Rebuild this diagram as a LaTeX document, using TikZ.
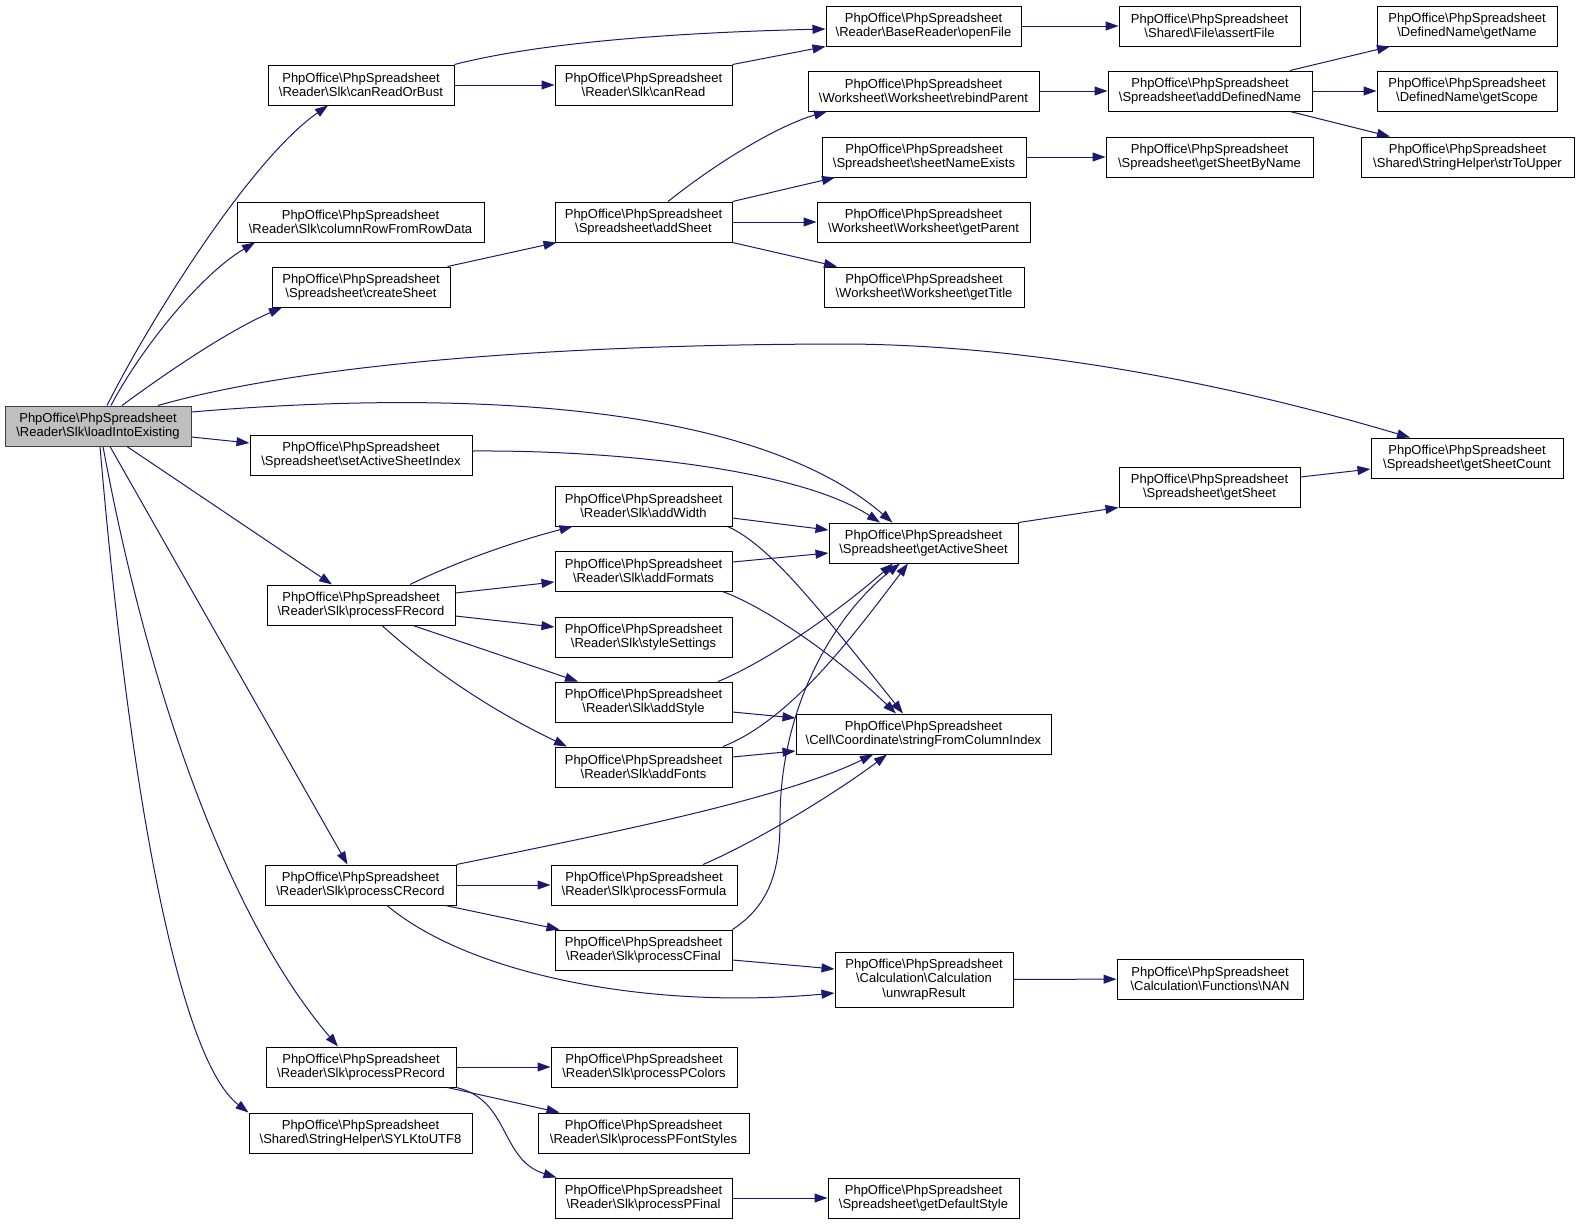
\documentclass[tikz,border=0pt]{standalone}
\usepackage{fontspec}
\setmainfont{Liberation Sans}
\usetikzlibrary{arrows.meta}

\definecolor{edgeblue}{HTML}{191970}
\newcommand{\nsep}{\textbackslash}
\newcommand{\php}{PhpOffice\nsep PhpSpreadsheet\\}

\tikzset{
  fn/.style={draw, line width=1pt, fill=white, inner sep=0pt, minimum height=40pt,
    align=center, font=\fontsize{13}{14.5}\selectfont},
  rootfn/.style={fn, draw=black!75, fill=black!25},
  call/.style={draw=edgeblue, line width=1pt, -{Triangle[length=13pt,width=9pt]}},
}

\begin{document}
\begin{tikzpicture}[x=1pt, y=-1pt]
  \useasboundingbox (0,0) rectangle (1579,1224);

  % first column
  \node[rootfn, minimum width=186pt] (load) at (98,426) {\php\nsep Reader\nsep Slk\nsep loadIntoExisting};

  % second column
  \node[fn, minimum width=186pt] (canReadOrBust) at (361,85)    {\php\nsep Reader\nsep Slk\nsep canReadOrBust};
  \node[fn, minimum width=247pt] (colRow)        at (360.5,222) {\php\nsep Reader\nsep Slk\nsep columnRowFromRowData};
  \node[fn, minimum width=178pt] (createSheet)   at (361,287)   {\php\nsep Spreadsheet\nsep createSheet};
  \node[fn, minimum width=222pt] (setActive)     at (361,455)   {\php\nsep Spreadsheet\nsep setActiveSheetIndex};
  \node[fn, minimum width=188pt] (procF)         at (361,605)   {\php\nsep Reader\nsep Slk\nsep processFRecord};
  \node[fn, minimum width=191pt] (procC)         at (360.5,885) {\php\nsep Reader\nsep Slk\nsep processCRecord};
  \node[fn, minimum width=190pt] (procP)         at (361,1067)  {\php\nsep Reader\nsep Slk\nsep processPRecord};
  \node[fn, minimum width=223pt] (sylk)          at (360.5,1133){\php\nsep Shared\nsep StringHelper\nsep SYLKtoUTF8};

  % third column
  \node[fn, minimum width=177pt] (canRead)       at (643.5,85)   {\php\nsep Reader\nsep Slk\nsep canRead};
  \node[fn, minimum width=177pt] (addSheet)      at (643.5,222)  {\php\nsep Spreadsheet\nsep addSheet};
  \node[fn, minimum width=177pt] (addWidth)      at (643.5,506)  {\php\nsep Reader\nsep Slk\nsep addWidth};
  \node[fn, minimum width=177pt] (addFormats)    at (643.5,571)  {\php\nsep Reader\nsep Slk\nsep addFormats};
  \node[fn, minimum width=177pt] (styleSettings) at (643.5,637)  {\php\nsep Reader\nsep Slk\nsep styleSettings};
  \node[fn, minimum width=177pt] (addStyle)      at (643.5,702)  {\php\nsep Reader\nsep Slk\nsep addStyle};
  \node[fn, minimum width=177pt] (addFonts)      at (643.5,767)  {\php\nsep Reader\nsep Slk\nsep addFonts};
  \node[fn, minimum width=186pt] (procFormula)   at (644,885)    {\php\nsep Reader\nsep Slk\nsep processFormula};
  \node[fn, minimum width=177pt] (procCFinal)    at (643.5,950)  {\php\nsep Reader\nsep Slk\nsep processCFinal};
  \node[fn, minimum width=186pt] (procPColors)   at (644,1067)   {\php\nsep Reader\nsep Slk\nsep processPColors};
  \node[fn, minimum width=211pt] (procPFont)     at (643.5,1133) {\php\nsep Reader\nsep Slk\nsep processPFontStyles};
  \node[fn, minimum width=177pt] (procPFinal)    at (643.5,1198) {\php\nsep Reader\nsep Slk\nsep processPFinal};

  % fourth column
  \node[fn, minimum width=195pt] (openFile)      at (923.5,26)   {\php\nsep Reader\nsep BaseReader\nsep openFile};
  \node[fn, minimum width=231pt] (rebind)        at (923.5,91)   {\php\nsep Worksheet\nsep Worksheet\nsep rebindParent};
  \node[fn, minimum width=204pt] (nameExists)    at (924,157)    {\php\nsep Spreadsheet\nsep sheetNameExists};
  \node[fn, minimum width=213pt] (getParent)     at (923.5,222)  {\php\nsep Worksheet\nsep Worksheet\nsep getParent};
  \node[fn, minimum width=200pt] (getTitle)      at (924,287)    {\php\nsep Worksheet\nsep Worksheet\nsep getTitle};
  \node[fn, minimum width=189pt] (activeSheet)   at (923.5,543)  {\php\nsep Spreadsheet\nsep getActiveSheet};
  \node[fn, minimum width=255pt] (strFromCol)    at (923.5,734)  {\php\nsep Cell\nsep Coordinate\nsep stringFromColumnIndex};
  \node[fn, minimum width=178pt, minimum height=55pt] (unwrap) at (924,979.5)
    {\php\nsep Calculation\nsep Calculation\\\nsep unwrapResult};
  \node[fn, minimum width=191pt] (defStyle)      at (923.5,1198) {\php\nsep Spreadsheet\nsep getDefaultStyle};

  % fifth column
  \node[fn, minimum width=181pt] (assertFile)    at (1209.5,26)  {\php\nsep Shared\nsep File\nsep assertFile};
  \node[fn, minimum width=204pt] (addDefName)    at (1210,91)    {\php\nsep Spreadsheet\nsep addDefinedName};
  \node[fn, minimum width=207pt] (sheetByName)   at (1209.5,157) {\php\nsep Spreadsheet\nsep getSheetByName};
  \node[fn, minimum width=181pt] (getSheet)      at (1209.5,487) {\php\nsep Spreadsheet\nsep getSheet};
  \node[fn, minimum width=186pt] (nan)           at (1210,979)   {\php\nsep Calculation\nsep Functions\nsep NAN};

  % sixth column
  \node[fn, minimum width=180pt] (getName)       at (1467,26)    {\php\nsep DefinedName\nsep getName};
  \node[fn, minimum width=180pt] (getScope)      at (1467,91)    {\php\nsep DefinedName\nsep getScope};
  \node[fn, minimum width=213pt] (strToUpper)    at (1467.5,157) {\php\nsep Shared\nsep StringHelper\nsep strToUpper};
  \node[fn, minimum width=192pt] (sheetCount)    at (1467,458)   {\php\nsep Spreadsheet\nsep getSheetCount};

  % calls from loadIntoExisting
  \draw[call] ([shift={(9,0)}]load.north) .. controls (150,320) and (250,160) .. ([shift={(-33,0)}]canReadOrBust.south);
  \draw[call] ([shift={(13,0)}]load.north) .. controls (140,350) and (200,275) .. ([shift={(-105.5,0)}]colRow.south);
  \draw[call] ([shift={(24,0)}]load.north) .. controls (170,370) and (230,330) .. ([shift={(-79,0)}]createSheet.south);
  \draw[call] ([shift={(60,0)}]load.north) .. controls (300,365) and (550,344) .. (850,344)
    .. controls (1050,346) and (1250,390) .. ([shift={(-57,0)}]sheetCount.north);
  \draw[call] ([shift={(0,-14)}]load.east) .. controls (450,390) and (750,400) .. ([shift={(-31,0)}]activeSheet.north);
  \draw[call] ([shift={(0,11)}]load.east) -- ([shift={(0,-12)}]setActive.west);
  \draw[call] ([shift={(29,0)}]load.south) -- ([shift={(-29,0)}]procF.north);
  \draw[call] ([shift={(12,0)}]load.south) -- ([shift={(-13,0)}]procC.north);
  \draw[call] ([shift={(5,0)}]load.south) .. controls (150,700) and (230,920) .. ([shift={(-23,0)}]procP.north);
  \draw[call] ([shift={(2,0)}]load.south) .. controls (130,800) and (180,1060) .. (sylk.north west);

  % top part
  \draw[call] (canReadOrBust.north east) .. controls (550,40) and (700,32) .. ([shift={(0,3)}]openFile.west);
  \draw[call] (canReadOrBust) -- (canRead);
  \draw[call] (canRead.north east) -- (openFile.south west);
  \draw[call] (openFile) -- (assertFile);
  \draw[call] (rebind) -- (addDefName);
  \draw[call] (nameExists) -- (sheetByName);
  \draw[call] ([shift={(80,0)}]addDefName.north) -- ([shift={(-77,0)}]getName.south);
  \draw[call] (addDefName) -- (getScope);
  \draw[call] ([shift={(80,0)}]addDefName.south) -- ([shift={(-77.5,0)}]strToUpper.north);
  \draw[call] ([shift={(-3,0)}]createSheet.north east) -- ([shift={(2,0)}]addSheet.south west);
  \draw[call] ([shift={(24.5,0)}]addSheet.north) .. controls (720,160) and (780,125) .. ([shift={(-96.5,0)}]rebind.south);
  \draw[call] (addSheet.north east) -- ([shift={(-89,0)}]nameExists.south);
  \draw[call] (addSheet) -- (getParent);
  \draw[call] (addSheet.south east) -- ([shift={(-87,0)}]getTitle.north);

  % active sheet
  \draw[call] ([shift={(0,-4)}]setActive.east) .. controls (620,450) and (800,470) .. ([shift={(-43.5,0)}]activeSheet.north);
  \draw[call] (activeSheet.north east) -- (getSheet.south west);
  \draw[call] ([shift={(0,-10)}]getSheet.east) -- ([shift={(0,11)}]sheetCount.west);

  % processFRecord
  \draw[call] ([shift={(49,0)}]procF.north) .. controls (460,560) and (520,540) .. ([shift={(18,0)}]addWidth.south west);
  \draw[call] ([shift={(0,-12)}]procF.east) -- ([shift={(0,11)}]addFormats.west);
  \draw[call] ([shift={(0,11)}]procF.east) -- ([shift={(0,-10)}]styleSettings.west);
  \draw[call] ([shift={(52,0)}]procF.south) -- ([shift={(-65.5,0)}]addStyle.north);
  \draw[call] ([shift={(21,0)}]procF.south) .. controls (420,660) and (480,705) .. ([shift={(-76.5,0)}]addFonts.north);
  \draw[call] ([shift={(0,12)}]addWidth.east) -- ([shift={(0,-13)}]activeSheet.west);
  \draw[call] ([shift={(-5,0)}]addWidth.south east) .. controls (770,545) and (820,610) .. ([shift={(-20.5,0)}]strFromCol.north);
  \draw[call] ([shift={(0,-9)}]addFormats.east) -- ([shift={(0,10)}]activeSheet.west);
  \draw[call] ([shift={(-10,0)}]addFormats.south east) .. controls (760,605) and (830,650) .. ([shift={(-27.5,0)}]strFromCol.north);
  \draw[call] ([shift={(74.5,0)}]addStyle.north) .. controls (770,660) and (840,610) .. ([shift={(-30.5,0)}]activeSheet.south);
  \draw[call] ([shift={(0,10)}]addStyle.east) -- ([shift={(0,-16)}]strFromCol.west);
  \draw[call] ([shift={(79.5,0)}]addFonts.north) .. controls (790,720) and (850,640) .. ([shift={(-15.5,0)}]activeSheet.south);
  \draw[call] ([shift={(0,-10)}]addFonts.east) -- ([shift={(0,17)}]strFromCol.west);

  % processCRecord
  \draw[call] (procC.north east) .. controls (600,835) and (780,800) .. ([shift={(-50.5,0)}]strFromCol.south);
  \draw[call] (procC) -- (procFormula);
  \draw[call] ([shift={(-11,0)}]procC.south east) -- ([shift={(5,0)}]procCFinal.north west);
  \draw[call] ([shift={(26.5,0)}]procC.south) .. controls (470,975) and (650,1010) .. ([shift={(0,13.5)}]unwrap.west);
  \draw[call] ([shift={(59,0)}]procFormula.north) .. controls (760,840) and (840,790) .. ([shift={(-36.5,0)}]strFromCol.south);
  \draw[call] (procCFinal.north east) .. controls (770,905) and (780,870) .. (780,820)
    .. controls (780,700) and (840,610) .. ([shift={(-23.5,0)}]activeSheet.south);
  \draw[call] ([shift={(0,10)}]procCFinal.east) -- ([shift={(0,-10.5)}]unwrap.west);
  \draw[call] (unwrap) -- (nan);

  % processPRecord
  \draw[call] (procP) -- (procPColors);
  \draw[call] ([shift={(-9,0)}]procP.south east) -- ([shift={(22,0)}]procPFont.north west);
  \draw[call] (procP.south east) .. controls (510,1100) and (500,1160) .. ([shift={(2,0)}]procPFinal.north west);
  \draw[call] (procPFinal) -- (defStyle);
\end{tikzpicture}
\end{document}
